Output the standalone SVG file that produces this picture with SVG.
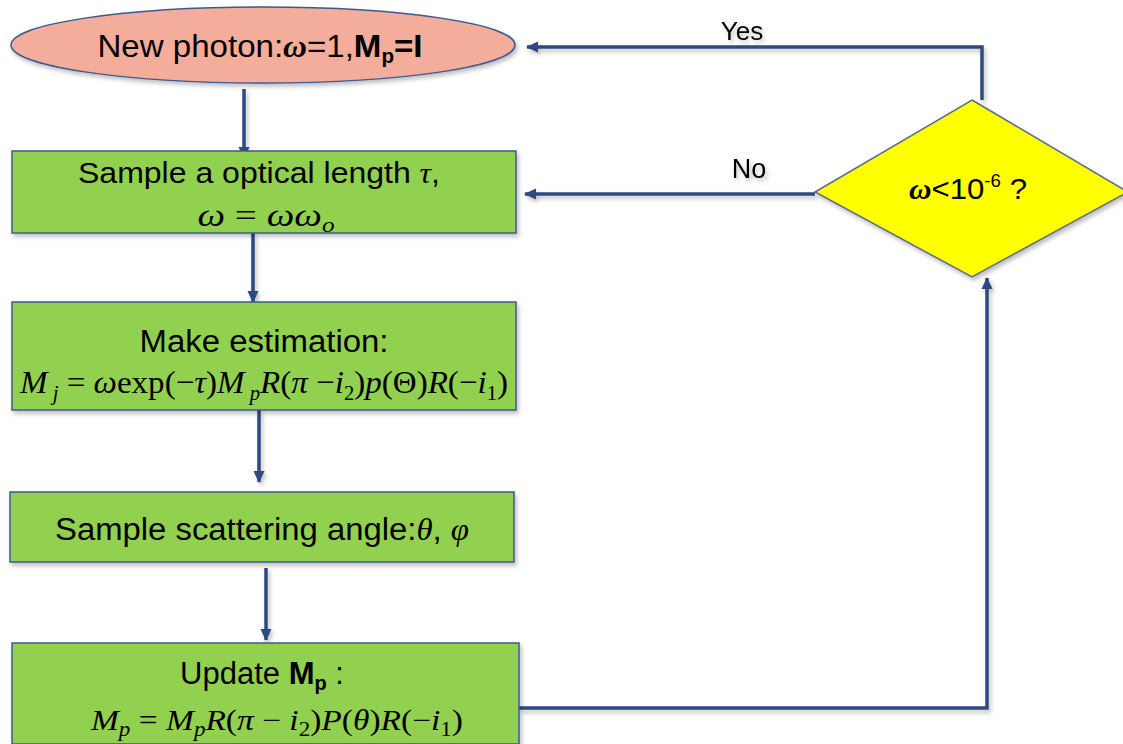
<svg xmlns="http://www.w3.org/2000/svg" width="1123" height="744" viewBox="0 0 1123 744">
<style>
.sans{font-family:"Liberation Sans",Arial,sans-serif;fill:#000}
.math{font-family:"Liberation Serif","Times New Roman",serif;fill:#000}
.it{font-style:italic}
.b{font-weight:bold}
.box{fill:#92D050;stroke:#3C5A91;stroke-width:1.5}
.conn{fill:none;stroke:#2F4A7E;stroke-width:3.5}
</style>
<defs>
<filter id="sh" x="-10%" y="-10%" width="120%" height="130%">
<feDropShadow dx="2" dy="3" stdDeviation="2" flood-color="#000" flood-opacity="0.25"/>
</filter>
<marker id="ah" viewBox="0 0 12 12" refX="11" refY="6" markerWidth="12" markerHeight="12" markerUnits="userSpaceOnUse" orient="auto">
<path d="M0,0.5 L12,6 L0,11.5 Z" fill="#2F4A7E"/>
</marker>
</defs>

<g id="connectors" filter="url(#sh)">
<line class="conn" x1="244" y1="89" x2="244" y2="158" marker-end="url(#ah)"/>
<line class="conn" x1="253" y1="233" x2="253" y2="302" marker-end="url(#ah)"/>
<line class="conn" x1="259" y1="410" x2="259" y2="482" marker-end="url(#ah)"/>
<line class="conn" x1="266" y1="568" x2="266" y2="640" marker-end="url(#ah)"/>
<polyline class="conn" points="519,708 987,708 987,278" marker-end="url(#ah)"/>
<polyline class="conn" points="982,100 982,47 527,47" marker-end="url(#ah)"/>
<line class="conn" x1="815" y1="194" x2="525" y2="194" marker-end="url(#ah)"/>
<text class="sans" x="742" y="40" font-size="26" text-anchor="middle">Yes</text>
<text class="sans" x="749" y="178" font-size="27" text-anchor="middle">No</text>
</g>

<g id="start">
<ellipse cx="263" cy="45" rx="252" ry="38" fill="#F4AD9A" stroke="#3C5A91" stroke-width="1.5" filter="url(#sh)"/>
<text class="sans" x="260" y="57" font-size="32" text-anchor="middle" textLength="325" lengthAdjust="spacingAndGlyphs">New photon:<tspan class="math b it">ω</tspan>=1,<tspan class="b">M</tspan><tspan class="b" font-size="20" dy="6">p</tspan><tspan class="b" dy="-6">=I</tspan></text>
</g>

<g id="sample-length">
<rect class="box" x="12" y="151" width="504" height="82" filter="url(#sh)"/>
<text class="sans" x="259" y="183" font-size="30" text-anchor="middle" textLength="362" lengthAdjust="spacingAndGlyphs">Sample a optical length <tspan class="math it">τ</tspan>,</text>
<text class="math it" x="266" y="226" font-size="31" text-anchor="middle" textLength="137" lengthAdjust="spacingAndGlyphs">ω <tspan font-style="normal">=</tspan> ωω<tspan font-size="20" dy="6">o</tspan></text>
</g>

<g id="estimation">
<rect class="box" x="12" y="302" width="504" height="108" filter="url(#sh)"/>
<text class="sans" x="264" y="352" font-size="31" text-anchor="middle" textLength="249" lengthAdjust="spacingAndGlyphs">Make estimation:</text>
<text class="math" x="264" y="393" font-size="32" text-anchor="middle" textLength="488" lengthAdjust="spacingAndGlyphs"><tspan class="it">M</tspan><tspan class="it" font-size="20" dy="7"> j</tspan><tspan dy="-7"> = </tspan><tspan class="it">ω</tspan>exp(−<tspan class="it">τ</tspan>)<tspan class="it">M</tspan><tspan class="it" font-size="20" dy="7"> p</tspan><tspan class="it" dy="-7">R</tspan>(<tspan class="it">π</tspan> −<tspan class="it">i</tspan><tspan font-size="20" dy="7">2</tspan><tspan dy="-7">)</tspan><tspan class="it">p</tspan>(Θ)<tspan class="it">R</tspan>(−<tspan class="it">i</tspan><tspan font-size="20" dy="7">1</tspan><tspan dy="-7">)</tspan></text>
</g>

<g id="scattering">
<rect class="box" x="10" y="492" width="504" height="70" filter="url(#sh)"/>
<text class="sans" x="262" y="540" font-size="31" text-anchor="middle" textLength="414" lengthAdjust="spacingAndGlyphs">Sample scattering angle:<tspan class="math it">θ</tspan>, <tspan class="math it">φ</tspan></text>
</g>

<g id="update">
<rect class="box" x="12" y="643" width="507" height="101" filter="url(#sh)"/>
<text class="sans" x="262" y="684" font-size="31" text-anchor="middle">Update <tspan class="b">M</tspan><tspan class="b" font-size="20" dy="6">p</tspan><tspan dy="-6"> :</tspan></text>
<text class="math" x="277" y="730" font-size="29" text-anchor="middle" textLength="372" lengthAdjust="spacingAndGlyphs"><tspan class="it">M</tspan><tspan class="it" font-size="20" dy="6">p</tspan><tspan dy="-6"> = </tspan><tspan class="it">M</tspan><tspan class="it" font-size="20" dy="6">p</tspan><tspan class="it" dy="-6">R</tspan>(<tspan class="it">π</tspan> − <tspan class="it">i</tspan><tspan font-size="20" dy="6">2</tspan><tspan dy="-6">)</tspan><tspan class="it">P</tspan>(<tspan class="it">θ</tspan>)<tspan class="it">R</tspan>(−<tspan class="it">i</tspan><tspan font-size="20" dy="6">1</tspan><tspan dy="-6">)</tspan></text>
</g>

<g id="decision">
<polygon points="972,100 1128,192 972,277 815,192" fill="#FFFF00" stroke="#5A6A8A" stroke-width="1.5" filter="url(#sh)"/>
<text class="sans" x="968" y="199" font-size="30" text-anchor="middle" textLength="118" lengthAdjust="spacingAndGlyphs"><tspan class="math b it">ω</tspan>&lt;10<tspan font-size="18" dy="-12">-6</tspan><tspan dy="12"> ?</tspan></text>
</g>
</svg>
